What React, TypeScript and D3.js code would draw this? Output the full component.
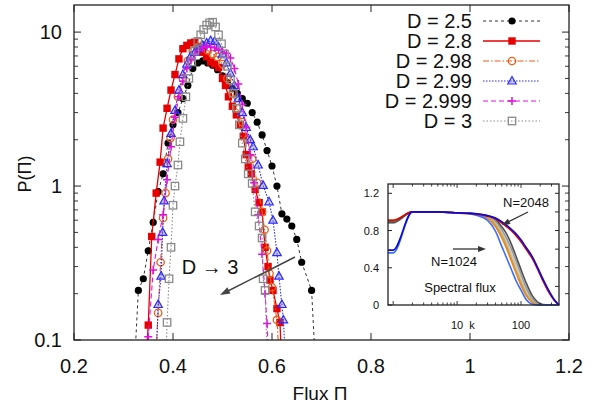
import React from "react";
import * as d3 from "d3";

// ---------- main chart data ----------
const xTickValues = [0.2, 0.4, 0.6, 0.8, 1, 1.2];
const xTickLabels = ["0.2", "0.4", "0.6", "0.8", "1", "1.2"];
const yTickValues = [0.1, 1, 10];
const yTickLabels = ["0.1", "1", "10"];
const seriesLabels = ["D = 2.5", "D = 2.8", "D = 2.98", "D = 2.99", "D = 2.999", "D = 3"];

const piD25 = [0.32,0.33,0.34,0.35,0.36,0.37,0.38,0.39,0.40,0.41,0.42,0.43,0.44,0.45,0.46,0.47,0.48,0.49,0.50,0.51,0.52,0.53,0.54,0.55,0.56,0.57,0.58,0.59,0.60,0.61,0.62,0.63,0.64,0.65,0.66,0.68,0.69];
const pD25 = [0.05,0.21,0.25,0.38,0.58,0.92,1.2,1.9,2.5,3.0,3.7,4.5,5.8,6.3,6.5,6.3,6.1,5.7,5.2,4.7,4.3,4.0,3.7,3.45,3.0,2.6,2.15,1.7,1.35,1.0,0.66,0.61,0.55,0.45,0.32,0.21,0.05];

const piD28 = [0.342,0.350,0.357,0.366,0.374,0.380,0.388,0.396,0.404,0.412,0.420,0.428,0.436,0.444,0.452,0.460,0.468,0.476,0.484,0.492,0.500,0.506,0.512,0.520,0.528,0.536,0.542,0.548,0.552,0.558,0.566,0.574,0.580,0.586,0.592,0.596,0.602,0.610,0.616,0.622];
const pD28 = [0.05,0.125,0.47,0.90,1.43,2.38,3.2,4.2,5.3,6.7,7.8,8.2,8.5,8.6,8.0,7.4,6.9,6.4,6.2,5.9,5.0,4.5,3.8,3.3,2.9,2.5,2.1,1.6,1.33,1.2,0.95,0.78,0.68,0.40,0.30,0.245,0.21,0.16,0.13,0.05];

const piD298 = [0.362,0.370,0.375,0.380,0.385,0.390,0.395,0.400,0.410,0.420,0.430,0.440,0.450,0.460,0.470,0.480,0.490,0.500,0.510,0.520,0.530,0.540,0.550,0.560,0.570,0.580,0.585,0.590,0.595,0.600,0.610,0.618];
const pD298 = [0.05,0.15,0.32,0.62,0.90,1.5,2.05,2.7,3.8,5.0,6.5,7.5,8.0,8.2,7.6,7.2,6.9,6.2,5.0,4.0,3.2,2.6,2.0,1.5,1.05,0.68,0.52,0.38,0.27,0.22,0.135,0.05];

const piD299 = [0.364,0.370,0.376,0.379,0.382,0.388,0.396,0.404,0.412,0.420,0.428,0.436,0.444,0.452,0.460,0.468,0.476,0.484,0.492,0.500,0.508,0.516,0.524,0.532,0.540,0.548,0.556,0.562,0.572,0.582,0.594,0.602,0.610,0.614,0.620,0.623,0.630];
const pD299 = [0.05,0.17,0.26,0.5,0.8,1.4,2.2,3.1,4.2,5.3,6.2,7.0,7.4,7.8,8.2,8.5,8.8,8.7,8.0,7.2,6.3,5.4,4.5,3.7,3.0,2.4,2.0,1.8,1.37,1.01,0.79,0.6,0.37,0.26,0.17,0.135,0.05];

const piD2999 = [0.344,0.350,0.360,0.370,0.380,0.388,0.396,0.404,0.412,0.420,0.428,0.436,0.444,0.452,0.460,0.468,0.476,0.484,0.492,0.500,0.508,0.516,0.524,0.532,0.540,0.548,0.556,0.564,0.572,0.580,0.586,0.590,0.596];
const pD2999 = [0.05,0.105,0.285,0.45,0.65,1.1,1.8,2.8,3.8,4.8,5.8,6.6,7.2,7.6,7.9,8.1,8.0,7.9,7.7,7.6,7.3,6.8,5.8,4.6,3.4,2.4,1.6,1.05,0.65,0.36,0.2,0.128,0.05];

const piD3 = [0.384,0.388,0.392,0.396,0.400,0.404,0.410,0.414,0.420,0.426,0.432,0.438,0.444,0.450,0.456,0.462,0.468,0.474,0.480,0.486,0.492,0.498,0.504,0.510,0.516,0.522,0.528,0.534,0.540,0.546,0.552,0.560,0.566,0.574,0.580,0.582,0.586,0.592];
const pD3 = [0.05,0.13,0.25,0.40,0.75,1.0,1.37,1.94,2.75,3.8,5.0,6.4,7.6,8.7,9.6,10.4,11.1,11.5,11.6,10.8,9.6,8.4,7.2,6.0,4.9,4.0,3.2,2.5,1.9,1.5,1.2,1.04,0.68,0.55,0.46,0.25,0.21,0.05];

// ---------- inset data ----------
const kValues = [0.83, 1, 2, 5, 10, 15, 20, 30, 40, 50, 60, 70, 85, 100, 120, 150, 180, 220, 270, 330, 393];
const fluxBlue1024 = [0.56,0.56,1.0,1.0,0.99,0.98,0.965,0.91,0.79,0.63,0.5,0.39,0.25,0.16,0.06,0.008,0,0,0,0,0];
const fluxOrange = [0.91,0.91,1.0,1.0,0.99,0.98,0.97,0.93,0.84,0.72,0.6,0.48,0.33,0.21,0.1,0.025,0.002,0,0,0,0];
const fluxOlive = [0.9,0.9,1.0,1.0,0.99,0.98,0.97,0.94,0.86,0.75,0.63,0.51,0.36,0.24,0.12,0.035,0.005,0,0,0,0];
const fluxLightGray = [0.88,0.88,1.0,1.0,0.99,0.985,0.975,0.95,0.88,0.78,0.67,0.56,0.41,0.28,0.15,0.05,0.012,0,0,0,0];
const fluxGray = [0.88,0.88,1.0,1.0,0.99,0.985,0.975,0.955,0.9,0.81,0.71,0.61,0.46,0.33,0.19,0.07,0.02,0.002,0,0,0];
const fluxDarkGray = [0.89,0.89,1.0,1.0,0.99,0.985,0.98,0.96,0.92,0.84,0.76,0.66,0.51,0.38,0.24,0.1,0.035,0.005,0,0,0];
const fluxRed2048 = [0.91,0.91,1.0,1.0,0.99,0.985,0.975,0.955,0.925,0.88,0.84,0.8,0.74,0.68,0.6,0.5,0.39,0.26,0.14,0.05,0];
const fluxBlue2048 = [0.59,0.59,1.0,1.0,0.99,0.985,0.98,0.96,0.935,0.895,0.855,0.815,0.76,0.7,0.62,0.52,0.41,0.28,0.16,0.06,0];
const insetYTicks = [0, 0.4, 0.8, 1.2];
const insetYTickLabels = ["0", "0.4", "0.8", "1.2"];
const insetXLabelTicks = [10, 100];
const insetXLabels = ["10", "100"];

// ---------- styles ----------
const FONT = "'Liberation Sans', Arial, Helvetica, sans-serif";
const seriesStyle = [
  { color: "#000000", line: "#333333", dash: "3,3", marker: "circleFilled", width: 1 },
  { color: "#e60000", line: "#e60000", dash: "none", marker: "squareFilled", width: 1.3 },
  { color: "#e8601c", line: "#e8601c", dash: "6,2,1.5,2", marker: "circleOpen", width: 1.1 },
  { color: "#2a2aff", line: "#2a2aff", dash: "1.5,1.5", marker: "triangleOpen", width: 1.1 },
  { color: "#e010e0", line: "#e010e0", dash: "5,3", marker: "plus", width: 1.1 },
  { color: "#8a8a8a", line: "#8a8a8a", dash: "1.5,2", marker: "squareOpen", width: 1.1 },
];
const insetStyle = [
  { data: fluxLightGray, color: "#c4c4c4" },
  { data: fluxOlive, color: "#c8a44a" },
  { data: fluxOrange, color: "#e88a20" },
  { data: fluxGray, color: "#9a9a9a" },
  { data: fluxDarkGray, color: "#505050" },
  { data: fluxBlue1024, color: "#3a6cff" },
  { data: fluxRed2048, color: "#e00000" },
  { data: fluxBlue2048, color: "#0a0ad8" },
];

const ML = 74, MR = 569, MT = 5, MB = 340;
const IL = 388, IR = 559, IT = 184, IB = 305;

function Marker({ type, cx, cy, color }: { type: string; cx: number; cy: number; color: string }) {
  switch (type) {
    case "circleFilled":
      return <circle cx={cx} cy={cy} r={3.6} fill={color} />;
    case "squareFilled":
      return <rect x={cx - 3.7} y={cy - 3.7} width={7.4} height={7.4} fill={color} />;
    case "circleOpen":
      return <circle cx={cx} cy={cy} r={3.7} fill="none" stroke={color} strokeWidth={1.3} />;
    case "triangleOpen":
      return (
        <path
          d={`M${cx},${cy - 4.5}L${cx + 4.2},${cy + 3}L${cx - 4.2},${cy + 3}Z`}
          fill="rgba(110,110,255,0.35)"
          stroke={color}
          strokeWidth={1.2}
        />
      );
    case "plus":
      return (
        <path d={`M${cx - 4},${cy}H${cx + 4}M${cx},${cy - 4}V${cy + 4}`} stroke={color} strokeWidth={1.5} />
      );
    case "squareOpen":
      return (
        <rect x={cx - 3.7} y={cy - 3.7} width={7.4} height={7.4} fill="none" stroke={color} strokeWidth={1.3} />
      );
  }
  return null;
}

function arrowHead(x1: number, y1: number, x2: number, y2: number, len = 8, half = 3) {
  const a = Math.atan2(y2 - y1, x2 - x1);
  const bx = x2 - len * Math.cos(a), by = y2 - len * Math.sin(a);
  const px = -Math.sin(a) * half, py = Math.cos(a) * half;
  return `M${x2},${y2}L${bx + px},${by + py}L${bx - px},${by - py}Z`;
}

export default function App() {
  const x = d3.scaleLinear().domain([0.2, 1.2]).range([ML, MR]);
  const y = d3.scaleLog().domain([0.1, 15]).range([MB, MT]);
  const xi = d3.scaleLog().domain([0.83, 393]).range([IL, IR]);
  const yi = d3.scaleLinear().domain([0, 1.3]).range([IB, IT]);

  const series = [
    [piD25, pD25], [piD28, pD28], [piD298, pD298], [piD299, pD299], [piD2999, pD2999], [piD3, pD3],
  ];

  const line = d3
    .line<[number, number]>()
    .x((d) => x(d[0]))
    .y((d) => y(d[1]));

  const insetLine = d3
    .line<[number, number]>()
    .x((d) => xi(d[0]))
    .y((d) => yi(d[1]))
    .curve(d3.curveMonotoneX);

  const minorY: number[] = [];
  [0.1, 1].forEach((dec) => {
    for (let m = 2; m <= 9; m++) minorY.push(dec * m);
  });
  const insetMinorX: number[] = [];
  [1, 10, 100].forEach((dec) => {
    for (let m = 1; m <= 9; m++) {
      const v = dec * m;
      if (v >= 0.83 && v <= 393) insetMinorX.push(v);
    }
  });

  return (
    <svg width={601} height={403} style={{ display: "block", position: "absolute", left: 0, top: 0 }}>
      <rect width={601} height={403} fill="#fff" />
      <defs>
        <clipPath id="plotClip">
          <rect x={ML} y={MT} width={MR - ML} height={MB - MT} />
        </clipPath>
      </defs>

      {/* series */}
      <g clipPath="url(#plotClip)">
        {series.map(([xs, ys], i) => {
          const st = seriesStyle[i];
          const pts = xs.map((v, j) => [v, ys[j]] as [number, number]);
          return (
            <g key={i}>
              <path d={line(pts) || ""} fill="none" stroke={st.line} strokeWidth={st.width} strokeDasharray={st.dash} />
              {pts
                .filter((p) => p[1] >= 0.1)
                .map((p, j) => (
                  <Marker key={j} type={st.marker} cx={x(p[0])} cy={y(p[1])} color={st.color} />
                ))}
            </g>
          );
        })}
      </g>

      {/* frame and ticks */}
      <rect x={ML} y={MT} width={MR - ML} height={MB - MT} fill="none" stroke="#222" strokeWidth={1.3} />
      {xTickValues.map((v, i) => (
        <g key={"xt" + i}>
          <line x1={x(v)} x2={x(v)} y1={MB} y2={MB - 7} stroke="#222" strokeWidth={1} />
          <line x1={x(v)} x2={x(v)} y1={MT} y2={MT + 7} stroke="#222" strokeWidth={1} />
          <text x={x(v)} y={373} textAnchor="middle" fontFamily={FONT} fontSize={20} fill="#111">
            {xTickLabels[i]}
          </text>
        </g>
      ))}
      {yTickValues.map((v, i) => (
        <g key={"yt" + i}>
          <line x1={ML} x2={ML + 7} y1={y(v)} y2={y(v)} stroke="#222" strokeWidth={1} />
          <line x1={MR} x2={MR - 7} y1={y(v)} y2={y(v)} stroke="#222" strokeWidth={1} />
          <text x={62} y={y(v) + 7} textAnchor="end" fontFamily={FONT} fontSize={20} fill="#111">
            {yTickLabels[i]}
          </text>
        </g>
      ))}
      {minorY.map((v, i) => (
        <g key={"ym" + i}>
          <line x1={ML} x2={ML + 4} y1={y(v)} y2={y(v)} stroke="#222" strokeWidth={0.9} />
          <line x1={MR} x2={MR - 4} y1={y(v)} y2={y(v)} stroke="#222" strokeWidth={0.9} />
        </g>
      ))}
      <text x={320} y={400} textAnchor="middle" fontFamily={FONT} fontSize={19} fill="#111">
        Flux Π
      </text>
      <text
        transform="translate(31,174) rotate(-90)"
        textAnchor="middle"
        fontFamily={FONT}
        fontSize={18}
        fill="#111"
      >
        P(Π)
      </text>

      {/* legend */}
      {seriesLabels.map((lab, i) => {
        const st = seriesStyle[i];
        const cy = 21 + i * 20;
        return (
          <g key={"lg" + i}>
            <text x={472} y={cy + 7} textAnchor="end" fontFamily={FONT} fontSize={20} fill="#111">
              {lab}
            </text>
            <line x1={483} x2={540} y1={cy} y2={cy} stroke={st.line} strokeWidth={st.width} strokeDasharray={st.dash} />
            <Marker type={st.marker} cx={512} cy={cy} color={st.color} />
          </g>
        );
      })}

      {/* D -> 3 annotation */}
      <text x={210} y={274} textAnchor="middle" fontFamily={FONT} fontSize={20} fill="#111">
        D → 3
      </text>
      <line x1={295} y1={257} x2={224} y2={293} stroke="#444" strokeWidth={1.5} />
      <path d={arrowHead(295, 257, 220, 295, 10, 3.5)} fill="#444" />

      {/* inset */}
      <rect x={IL} y={IT} width={IR - IL} height={IB - IT} fill="#fff" />
      {insetStyle.map((s, i) => (
        <path
          key={"il" + i}
          d={insetLine(kValues.map((k, j) => [k, s.data[j]] as [number, number])) || ""}
          fill="none"
          stroke={s.color}
          strokeWidth={1.6}
        />
      ))}
      <rect x={IL} y={IT} width={IR - IL} height={IB - IT} fill="none" stroke="#222" strokeWidth={1.3} />
      {insetYTicks.map((v, i) => (
        <g key={"iy" + i}>
          <line x1={IL} x2={IL + 4} y1={yi(v)} y2={yi(v)} stroke="#222" />
          <text x={379} y={yi(v) + 4} textAnchor="end" fontFamily={FONT} fontSize={11} fill="#111">
            {insetYTickLabels[i]}
          </text>
        </g>
      ))}
      {[0.2, 0.4, 0.6, 0.8, 1.0, 1.2].map((v, i) => (
        <line key={"iyr" + i} x1={IR} x2={IR - 4} y1={yi(v)} y2={yi(v)} stroke="#222" />
      ))}
      {insetMinorX.map((v, i) => {
        const major = v === 1 || v === 10 || v === 100;
        const len = major ? 4 : 2.5;
        return (
          <g key={"ix" + i}>
            <line x1={xi(v)} x2={xi(v)} y1={IB} y2={IB - len} stroke="#222" strokeWidth={0.9} />
            <line x1={xi(v)} x2={xi(v)} y1={IT} y2={IT + len} stroke="#222" strokeWidth={0.9} />
          </g>
        );
      })}
      {insetXLabelTicks.map((v, i) => (
        <text key={"ixl" + i} x={xi(v)} y={329} textAnchor="middle" fontFamily={FONT} fontSize={11} fill="#111">
          {insetXLabels[i]}
        </text>
      ))}
      <text x={472} y={329} textAnchor="middle" fontFamily={FONT} fontSize={11} fill="#111">
        k
      </text>
      <text x={526} y={207} textAnchor="middle" fontFamily={FONT} fontSize={13} fill="#111">
        N=2048
      </text>
      <text x={454} y={266} textAnchor="middle" fontFamily={FONT} fontSize={13} fill="#111">
        N=1024
      </text>
      <text x={460} y={292} textAnchor="middle" fontFamily={FONT} fontSize={13} fill="#111">
        Spectral flux
      </text>
      <line x1={528} y1={212} x2={506} y2={223} stroke="#333" strokeWidth={1.3} />
      <path d={arrowHead(528, 212, 502, 225, 8, 3)} fill="#333" />
      <line x1={453} y1={249} x2={481} y2={249} stroke="#333" strokeWidth={1.3} />
      <path d={arrowHead(453, 249, 486, 249, 8, 3)} fill="#333" />
    </svg>
  );
}
